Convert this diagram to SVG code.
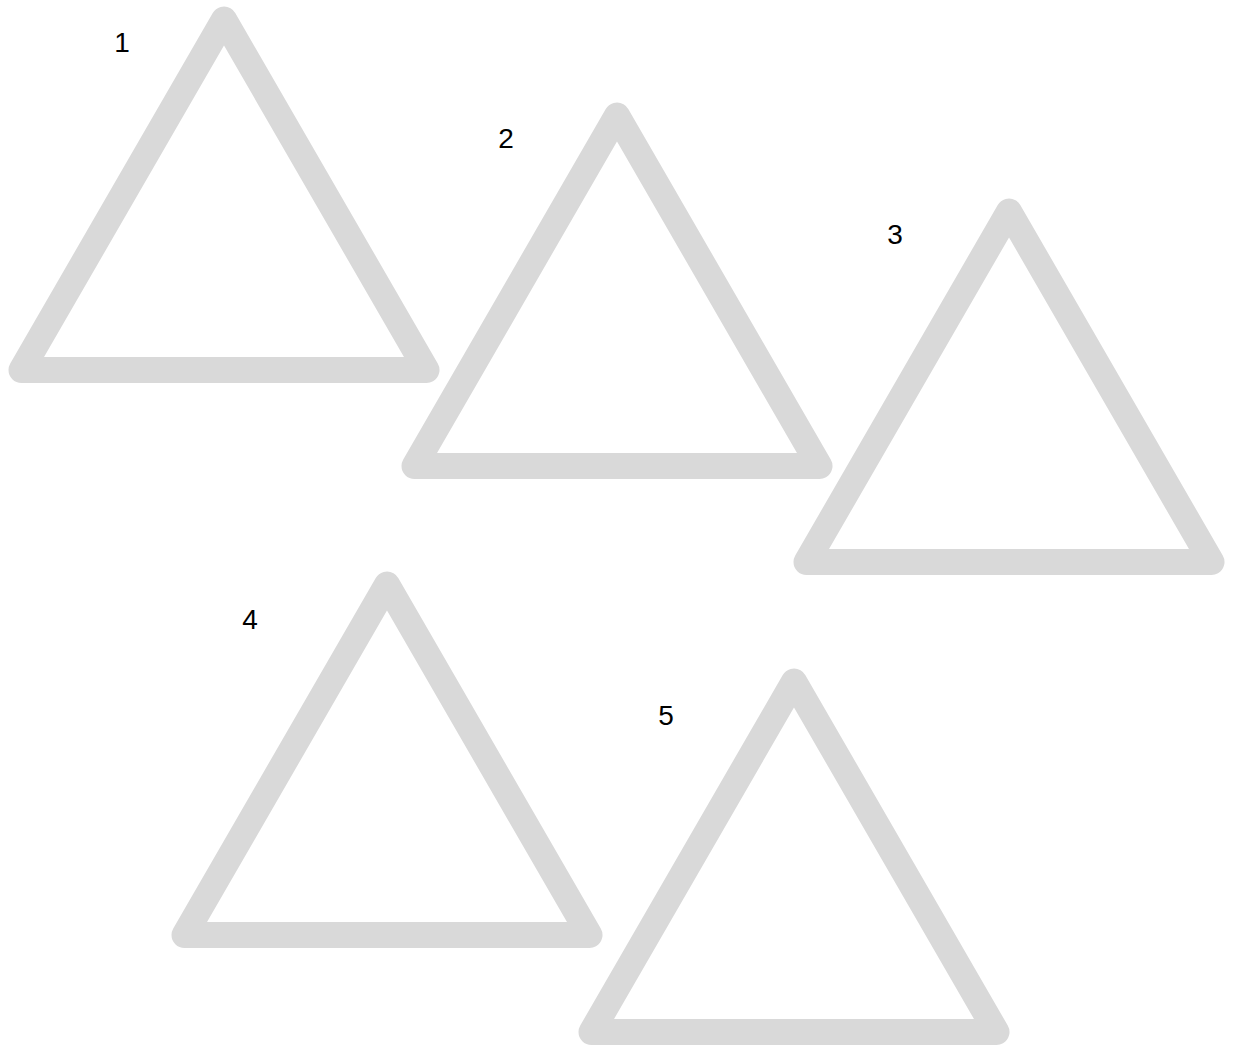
<svg xmlns="http://www.w3.org/2000/svg" width="1235" height="1046" viewBox="0 0 1235 1046">
<style>
.tri{fill:none;stroke:#d9d9d9;stroke-width:26;stroke-linejoin:round}
.lbl{font-family:"Liberation Sans",Arial,sans-serif;font-size:28px;fill:#000;text-anchor:middle}
</style>
<defs>
<polygon id="t" points="224,19.5 426.5,370 21.5,370"/>
</defs>
<rect width="1235" height="1046" fill="#fff"/>
<g id="node1"><use href="#t" class="tri"/><text class="lbl" x="122" y="52">1</text></g>
<g id="node2"><use href="#t" class="tri" transform="translate(393,96)"/><text class="lbl" x="506" y="148">2</text></g>
<g id="node3"><use href="#t" class="tri" transform="translate(785,192)"/><text class="lbl" x="895" y="244">3</text></g>
<g id="node4"><use href="#t" class="tri" transform="translate(163,565)"/><text class="lbl" x="250" y="629">4</text></g>
<g id="node5"><use href="#t" class="tri" transform="translate(570,662)"/><text class="lbl" x="666" y="725">5</text></g>
<g id="connectors"></g>
</svg>
